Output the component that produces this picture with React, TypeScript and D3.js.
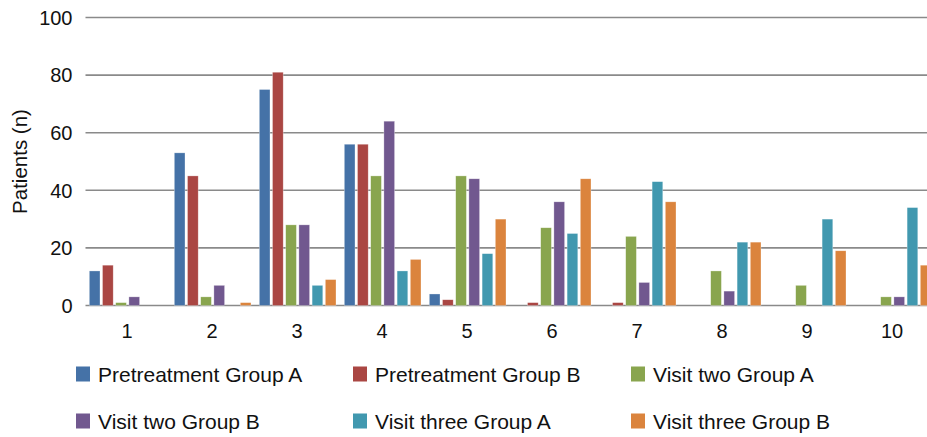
import React from "react";
import * as d3 from "d3";

const categories = ["1", "2", "3", "4", "5", "6", "7", "8", "9", "10"];
const seriesNames = [
  "Pretreatment Group A",
  "Pretreatment Group B",
  "Visit two Group A",
  "Visit two Group B",
  "Visit three Group A",
  "Visit three Group B",
];
const pretreatmentA = [12, 53, 75, 56, 4, 0, 0, 0, 0, 0];
const pretreatmentB = [14, 45, 81, 56, 2, 1, 1, 0, 0, 0];
const visitTwoA = [1, 3, 28, 45, 45, 27, 24, 12, 7, 3];
const visitTwoB = [3, 7, 28, 64, 44, 36, 8, 5, 0, 3];
const visitThreeA = [0, 0, 7, 12, 18, 25, 43, 22, 30, 34];
const visitThreeB = [0, 1, 9, 16, 30, 44, 36, 22, 19, 14];
const yTicks = [0, 20, 40, 60, 80, 100];

const seriesValues = [pretreatmentA, pretreatmentB, visitTwoA, visitTwoB, visitThreeA, visitThreeB];
const colors = ["#4572A7", "#AA4643", "#89A54E", "#71588F", "#4198AF", "#DB843D"];

export default function App() {
  const W = 927;
  const H = 437;
  const left = 85.5;
  const right = 935.5;
  const top = 17.5;
  const bottom = 305.5;
  const font = "'Liberation Sans', Arial, sans-serif";

  const y = d3.scaleLinear().domain([0, 100]).range([bottom, top]);
  const x0 = d3.scaleBand<string>().domain(categories).range([left, right]).padding(0);
  const bw = x0.bandwidth();
  const x1 = d3
    .scaleBand<string>()
    .domain(seriesNames)
    .range([3.8, 80.5])
    .paddingInner(0.19)
    .paddingOuter(0);

  const legendCols = [76, 353, 631];
  const legendRows = [374, 421];

  return (
    <svg width={W} height={H} style={{ position: "absolute", left: 0, top: 0, display: "block" }}>
      <rect x={0} y={0} width={W} height={H} fill="#fff" />
      {yTicks.map((t) => (
        <g key={t}>
          <line x1={left} x2={W} y1={y(t)} y2={y(t)} stroke="#8a8a8a" strokeWidth={1.6} />
          <text
            x={72.5}
            y={y(t)}
            dy="0.36em"
            textAnchor="end"
            fontFamily={font}
            fontSize={20}
            fill="#111"
          >
            {t}
          </text>
        </g>
      ))}
      {categories.map((c, ci) => (
        <g key={c} transform={`translate(${x0(c)},0)`}>
          {seriesNames.map((s, si) => {
            const v = seriesValues[si][ci];
            if (!v) return null;
            return (
              <rect
                key={s}
                x={x1(s)}
                y={y(v)}
                width={x1.bandwidth()}
                height={bottom - y(v)}
                fill={colors[si]}
                stroke="#ffffff"
                strokeOpacity={0.5}
                strokeWidth={0.6}
              />
            );
          })}
          <text
            x={bw / 2 - 1}
            y={338}
            textAnchor="middle"
            fontFamily={font}
            fontSize={20}
            fill="#111"
          >
            {c}
          </text>
        </g>
      ))}
      <text
        transform={`translate(26.5,${(top + bottom) / 2}) rotate(-90)`}
        textAnchor="middle"
        fontFamily={font}
        fontSize={20.5}
        fill="#111"
      >
        Patients (n)
      </text>
      {seriesNames.map((s, i) => {
        const lx = legendCols[i % 3];
        const ly = legendRows[Math.floor(i / 3)];
        return (
          <g key={s}>
            <rect x={lx} y={ly - 7.5} width={14} height={15} fill={colors[i]} />
            <text x={lx + 22} y={ly} dy="0.36em" fontFamily={font} fontSize={21} fill="#111">
              {s}
            </text>
          </g>
        );
      })}
    </svg>
  );
}
